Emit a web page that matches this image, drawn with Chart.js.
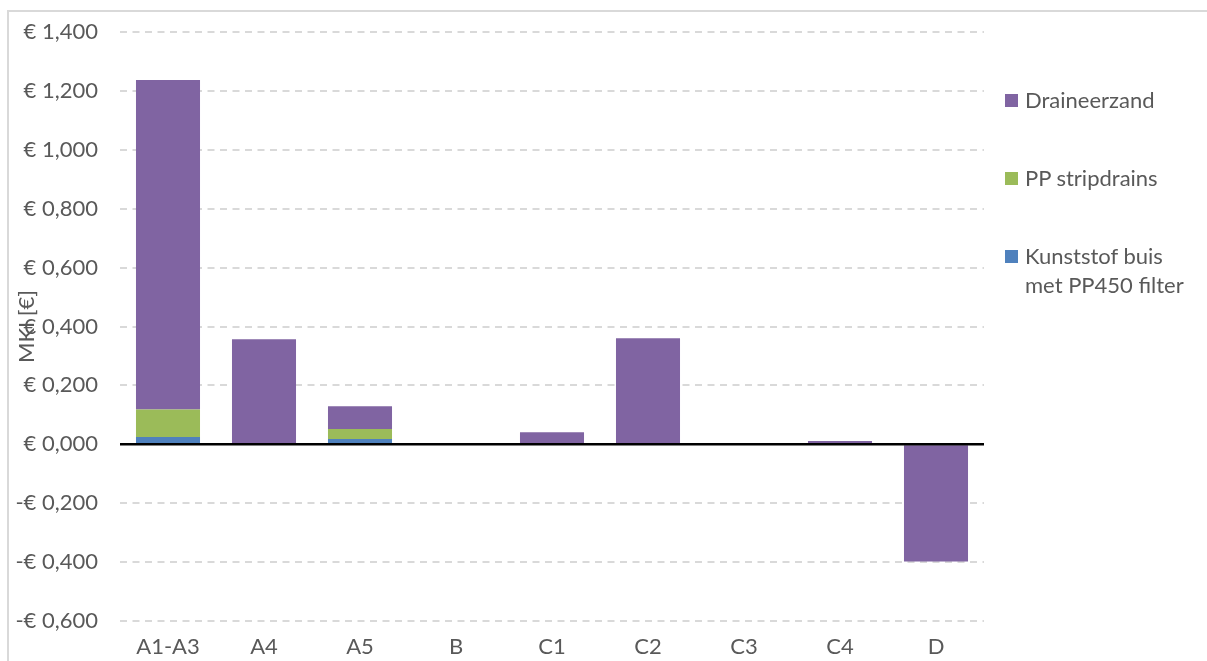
<!DOCTYPE html>
<html><head><meta charset="utf-8">
<script src="https://cdn.jsdelivr.net/npm/chart.js@4.4.1/dist/chart.umd.min.js"></script>
<style>
html,body{margin:0;padding:0;background:#fff;}
#wrap{position:relative;width:1207px;height:661px;overflow:hidden;background:#fff;}
#frame{position:absolute;left:7px;top:10px;width:1400px;height:800px;border-left:2px solid #d9d9d9;border-top:2px solid #d9d9d9;}
#c{position:absolute;left:0;top:0;}
.item{position:absolute;left:1005px;font-family:Lato,sans-serif;font-size:22px;line-height:29px;color:#595959;}
.sw{position:absolute;left:0;top:9px;width:13px;height:13px;}
.tx{position:absolute;left:20px;top:0;width:175px;}
</style></head>
<body>
<div id="wrap">
<div id="frame"></div>
<canvas id="c" width="1207" height="661"></canvas>
<div id="legend"></div>
</div>
<script>
const categories = ['A1-A3','A4','A5','B','C1','C2','C3','C4','D'];
const seriesNames = ['Kunststof buis met PP450 filter','PP stripdrains','Draineerzand'];
const seriesColors = ['#4F81BD','#9BBB59','#8064A2'];
const kunststofBuis = [0.025,0,0.018,0,0,0,0,0,0];
const ppStripdrains = [0.093,0,0.034,0,0,0,0,0,0];
const draineerzand = [1.119,0.357,0.077,0,0.041,0.360,0,0.011,-0.398];
const yMin = -0.6, yMax = 1.4, yStep = 0.2;
const yTitle = 'MKI [€]';

const seriesValues = [kunststofBuis, ppStripdrains, draineerzand];
const FONT = 'Lato';
const TXT = '#595959';

function fmt(v){
  const s = Math.abs(v).toFixed(3).replace('.', ',');
  return (v < -1e-9 ? '-€ ' : '€ ') + s;
}

const titlePlugin = {
  id:'ytitle',
  afterDraw(chart){
    const {ctx, chartArea} = chart;
    ctx.save();
    ctx.translate(27, (chartArea.top + chartArea.bottom)/2);
    ctx.rotate(-Math.PI/2);
    ctx.font = '22px ' + FONT;
    ctx.fillStyle = TXT;
    ctx.textAlign = 'center';
    ctx.textBaseline = 'middle';
    ctx.fillText(yTitle, 0, 0);
    ctx.restore();
  }
};
const zeroPlugin = {
  id:'zeroline',
  afterDatasetsDraw(chart){
    const {ctx, chartArea, scales} = chart;
    const y = Math.round(scales.y.getPixelForValue(0));
    ctx.save();
    ctx.strokeStyle = '#000';
    ctx.lineWidth = 2.5;
    ctx.beginPath();
    ctx.moveTo(chartArea.left, y + 0.25);
    ctx.lineTo(chartArea.right, y + 0.25);
    ctx.stroke();
    ctx.restore();
  }
};

new Chart(document.getElementById('c'), {
  type:'bar',
  data:{
    labels: categories,
    datasets: seriesNames.map((n,i)=>({
      label:n, data:seriesValues[i], backgroundColor:seriesColors[i],
      borderWidth:0, barPercentage:0.667, categoryPercentage:1
    }))
  },
  options:{
    responsive:false, animation:false,
    layout:{padding:{top:32,right:223,bottom:0,left:0}},
    plugins:{legend:{display:false}, tooltip:{enabled:false}},
    scales:{
      x:{
        stacked:true,
        grid:{display:false},
        border:{display:false},
        ticks:{font:{family:FONT,size:22}, color:TXT, padding:5, maxRotation:0},
        afterFit(s){ s.height = 40; }
      },
      y:{
        stacked:true, min:yMin, max:yMax,
        ticks:{stepSize:yStep, font:{family:FONT,size:22,lineHeight:0.85}, color:TXT, padding:22, callback:(v)=>fmt(v)},
        grid:{drawTicks:false, lineWidth:2, color:(c)=> (c.tick && Math.abs(c.tick.value) < 1e-9) ? 'rgba(0,0,0,0)' : '#d9d9d9'},
        border:{display:false, dash:[7,5.5]},
        afterFit(s){ s.width = 120; }
      }
    }
  },
  plugins:[titlePlugin, zeroPlugin]
});

// HTML legend (reverse order, like the reference)
const legendTops = [240.5, 162.5, 85];
const lg = document.getElementById('legend');
seriesNames.forEach((n,i)=>{
  const d = document.createElement('div');
  d.className = 'item';
  d.style.top = legendTops[i] + 'px';
  d.innerHTML = '<div class="sw" style="background:'+seriesColors[i]+'"></div><div class="tx"></div>';
  d.querySelector('.tx').textContent = n;
  lg.appendChild(d);
});
</script>
</body></html>
